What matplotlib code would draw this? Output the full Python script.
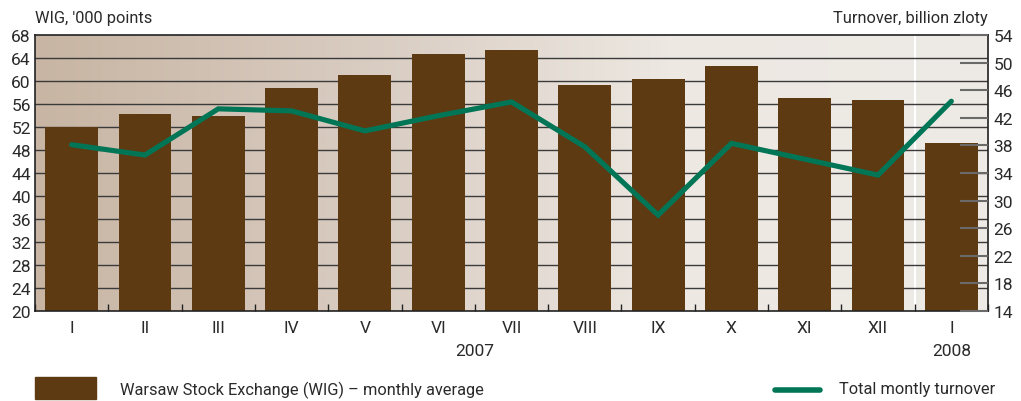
import numpy as np
import matplotlib
matplotlib.use("Agg")
import matplotlib.pyplot as plt
from matplotlib.colors import LinearSegmentedColormap
from matplotlib.patches import Rectangle
from matplotlib.lines import Line2D

plt.rcParams['font.family'] = ['Roboto', 'DejaVu Sans']

months = ["I", "II", "III", "IV", "V", "VI", "VII", "VIII", "IX", "X", "XI", "XII", "I"]
years = ["2007", "2008"]
wig = [52.0, 54.3, 53.9, 58.8, 61.0, 64.7, 65.4, 59.3, 60.3, 62.6, 57.0, 56.7, 49.2]
turnover = [38.1, 36.6, 43.3, 43.0, 40.1, 42.3, 44.3, 37.8, 27.9, 38.3, 36.0, 33.7, 44.4]

left_ticks = list(range(20, 69, 4))
right_ticks = list(range(14, 55, 4))

bar_color = "#5e3a12"
line_color = "#007657"
text_color = "#2a2a2a"
fs = 12.5
fs_leg = 11.8

fig = plt.figure(figsize=(10.21, 4.02), dpi=100)
ax = fig.add_axes([35/1021, 1-312/402, (988-35)/1021, (312-36)/402])
n = len(months)
x = np.arange(n)
ax.set_xlim(-0.5, n - 0.5)
ax.set_ylim(20, 68)

# background gradient
cmap = LinearSegmentedColormap.from_list("bg", ["#c8b5a3", "#d8cbc0", "#ede8e2", "#eeeae5"])
grad = np.linspace(0, 1, 256).reshape(1, -1)
ax.imshow(grad, extent=[-0.5, n - 0.5, 20, 68], aspect='auto', cmap=cmap, zorder=0)
ax.axvline(11.5, color="white", lw=1.5, zorder=0.5)

for t in left_ticks[1:-1]:
    ax.axhline(t, color="#3a3a3a", lw=1.0, zorder=1)

ax.bar(x, wig, width=0.72, color=bar_color, zorder=2, bottom=0)

ax.set_yticks(left_ticks)
ax.set_yticklabels([str(t) for t in left_ticks], fontsize=fs, color=text_color)
ax.tick_params(axis='y', length=0, pad=3)
ax.set_xticks(np.arange(n + 1) - 0.5)
ax.set_xticklabels([])
ax.tick_params(axis='x', direction='in', length=5, width=1, color="#222222")
for xi, m in zip(x, months):
    ax.text(xi, 20 - 1.6, m, ha='center', va='top', fontsize=fs, color=text_color, clip_on=False)
ax.text(5.5, 20 - 5.5, years[0], ha='center', va='top', fontsize=fs, color=text_color, clip_on=False)
ax.text(12, 20 - 5.5, years[1], ha='center', va='top', fontsize=fs, color=text_color, clip_on=False)

for s in ax.spines.values():
    s.set_color("#222222")
    s.set_linewidth(1.2)

ax2 = ax.twinx()
ax2.set_ylim(14, 54)
ax2.plot(x, turnover, color=line_color, lw=3.7, solid_capstyle='round',
         solid_joinstyle='miter', zorder=3)
ax2.set_yticks(right_ticks)
ax2.set_yticklabels([str(t) for t in right_ticks], fontsize=fs, color=text_color)
ax2.tick_params(axis='y', direction='in', length=20, width=1.5, color="#6a6a6a", pad=4)
for s in ax2.spines.values():
    s.set_visible(False)

fig.text(35/1021, 1-18/402, "WIG, '000 points", ha='left', va='center', fontsize=fs_leg, color=text_color)
fig.text(988/1021, 1-18/402, "Turnover, billion zloty", ha='right', va='center', fontsize=fs_leg, color=text_color)

# legend
fig.patches.append(Rectangle((35/1021, 1-400/402), 61/1021, 22/402, transform=fig.transFigure,
                             color=bar_color))
fig.text(120/1021, 1-390/402, "Warsaw Stock Exchange (WIG) – monthly average", ha='left', va='center',
         fontsize=fs_leg, color=text_color)
fig.lines.append(Line2D([775/1021, 820/1021], [1-391/402, 1-391/402], transform=fig.transFigure,
                        color=line_color, lw=4, solid_capstyle='round'))
fig.text(839/1021, 1-390/402, "Total montly turnover", ha='left', va='center',
         fontsize=fs_leg, color=text_color)

fig.savefig("out.png", dpi=100)
